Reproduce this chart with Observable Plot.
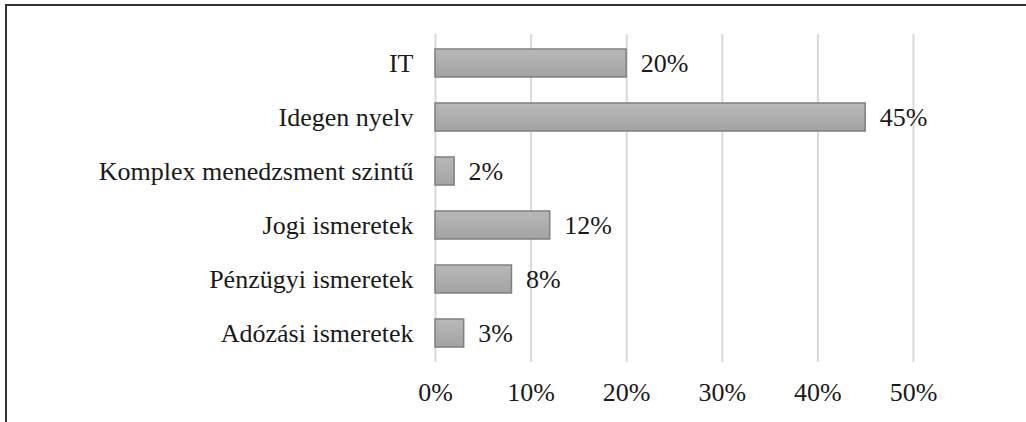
<!DOCTYPE html>
<html>
<head>
<meta charset="utf-8">
<script src="https://cdn.jsdelivr.net/npm/d3@7"></script>
<script src="https://cdn.jsdelivr.net/npm/@observablehq/plot@0.6"></script>
<style>
  html, body { margin: 0; padding: 0; background: #fff; }
  #wrap { position: relative; width: 1026px; height: 422px; overflow: hidden; }
  #frame { position: absolute; left: 5px; top: 4px; width: 1100px; height: 500px;
           border-top: 2px solid #333; border-left: 2px solid #333; pointer-events: none; }
</style>
</head>
<body>
<div id="wrap"><div id="frame"></div></div>
<script>
const categories = ["IT", "Idegen nyelv", "Komplex menedzsment szintű", "Jogi ismeretek", "Pénzügyi ismeretek", "Adózási ismeretek"];
const values = [0.20, 0.45, 0.02, 0.12, 0.08, 0.03];
const xTicks = [0, 0.1, 0.2, 0.3, 0.4, 0.5];

const data = categories.map((c, i) => ({category: c, value: values[i]}));
const pct = d3.format(".0%");

const chart = Plot.plot({
  width: 1026,
  height: 422,
  marginLeft: 435,
  marginRight: 113,
  marginTop: 34,
  marginBottom: 60,
  style: {fontFamily: "'Liberation Serif', 'Times New Roman', serif", fontSize: "26px", color: "#1a1a1a", background: "transparent"},
  x: {domain: [0, 0.5], ticks: xTicks, tickFormat: pct, label: null},
  y: {domain: categories, paddingInner: 0.49, paddingOuter: 0.245, label: null},
  marks: [
    Plot.gridX(xTicks, {stroke: "#d9d9d9", strokeOpacity: 1, strokeWidth: 2}),
    Plot.barX(data, {x: "value", y: "category", fill: "url(#barGrad)", stroke: "#7f7f7f", strokeWidth: 1.5}),
    Plot.text(data, {x: "value", y: "category", text: d => pct(d.value), textAnchor: "start", dx: 14, fill: "#1a1a1a", fontSize: 26}),
    Plot.axisX({ticks: xTicks, tickFormat: pct, tickSize: 0, tickPadding: 20, fontSize: 26, label: null}),
    Plot.axisY({tickSize: 0, tickPadding: 22, fontSize: 26, label: null})
  ]
});

const svg = d3.select(chart);
const grad = svg.insert("defs", ":first-child").append("linearGradient")
  .attr("id", "barGrad").attr("x1", 0).attr("y1", 0).attr("x2", 0).attr("y2", 1);
grad.append("stop").attr("offset", "0%").attr("stop-color", "#b8b8b8");
grad.append("stop").attr("offset", "100%").attr("stop-color", "#a3a3a3");

document.getElementById("wrap").insertBefore(chart, document.getElementById("frame"));
</script>
</body>
</html>
